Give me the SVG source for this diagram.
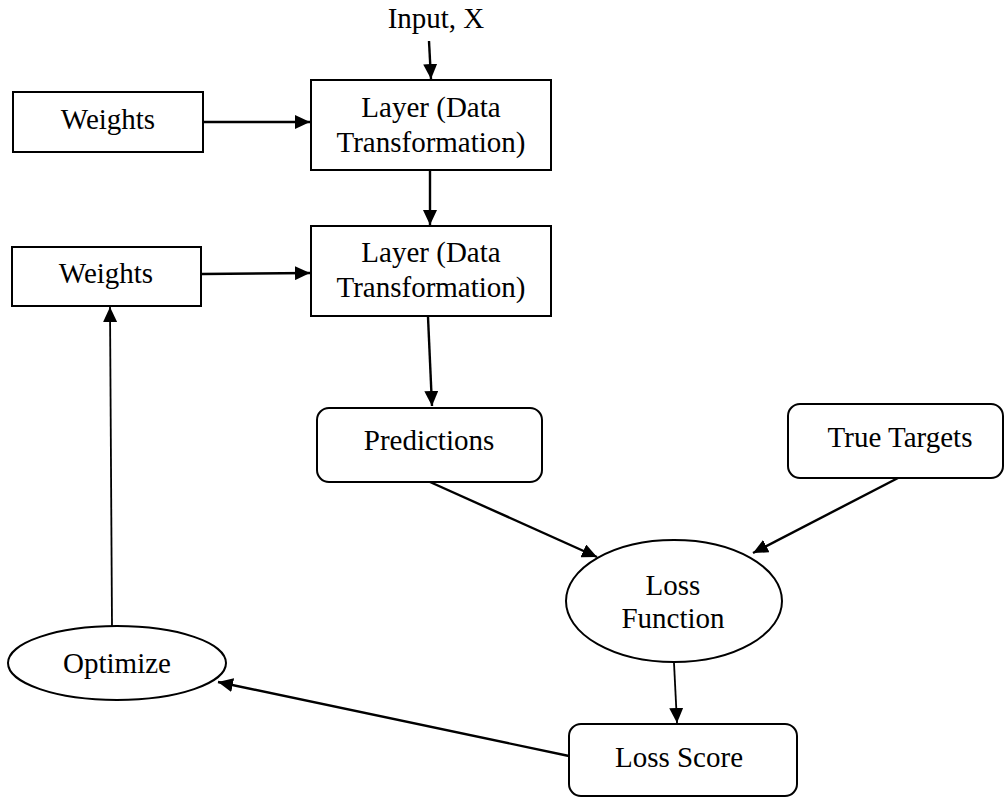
<svg xmlns="http://www.w3.org/2000/svg" width="1005" height="799" viewBox="0 0 1005 799">
  <style>
    .box { fill: #ffffff; stroke: #000000; stroke-width: 2; }
    .lbl { font-family: "Liberation Serif", "Times New Roman", serif; font-size: 29px; fill: #000000; text-anchor: middle; }
    .edge { stroke: #000000; stroke-width: 2.4; fill: none; marker-end: url(#arrow); }
    .thin { stroke-width: 1.8; }
  </style>
  <defs>
    <marker id="arrow" markerUnits="userSpaceOnUse" markerWidth="16" markerHeight="14" refX="15" refY="7" orient="auto">
      <path d="M0,0 L15,7 L0,14 Z" fill="#000000"/>
    </marker>
  </defs>
  <rect width="1005" height="799" fill="#ffffff"/>

  <!-- connectors -->
  <g id="connectors">
    <line class="edge" x1="429" y1="41" x2="431" y2="79"/>
    <line class="edge" x1="204" y1="122" x2="310" y2="122"/>
    <line class="edge" x1="430" y1="171" x2="430" y2="225"/>
    <line class="edge" x1="202" y1="274" x2="310" y2="273"/>
    <line class="edge" x1="428" y1="317" x2="432" y2="406"/>
    <line class="edge" x1="430" y1="482" x2="597" y2="557"/>
    <line class="edge" x1="898" y1="478" x2="753" y2="553"/>
    <line class="edge thin" x1="674" y1="663" x2="677" y2="723"/>
    <line class="edge" x1="569" y1="756" x2="218" y2="682"/>
    <line class="edge thin" x1="112" y1="626" x2="110" y2="307"/>
  </g>

  <!-- input label -->
  <g id="input">
    <text class="lbl" x="436" y="28">Input, X</text>
  </g>

  <g id="weights1">
    <rect class="box" x="13" y="92" width="190" height="60"/>
    <text class="lbl" x="108" y="129">Weights</text>
  </g>

  <g id="layer1">
    <rect class="box" x="311" y="80" width="240" height="90"/>
    <text class="lbl" x="431" y="117">Layer (Data</text>
    <text class="lbl" x="431" y="152">Transformation)</text>
  </g>

  <g id="weights2">
    <rect class="box" x="12" y="247" width="189" height="59"/>
    <text class="lbl" x="106" y="283">Weights</text>
  </g>

  <g id="layer2">
    <rect class="box" x="311" y="226" width="240" height="90"/>
    <text class="lbl" x="431" y="262">Layer (Data</text>
    <text class="lbl" x="431" y="297">Transformation)</text>
  </g>

  <g id="predictions">
    <rect class="box" x="317" y="408" width="225" height="74" rx="12" ry="12"/>
    <text class="lbl" x="429" y="450">Predictions</text>
  </g>

  <g id="true-targets">
    <rect class="box" x="788" y="404" width="215" height="74" rx="12" ry="12"/>
    <text class="lbl" x="900" y="447">True Targets</text>
  </g>

  <g id="loss-function">
    <ellipse class="box" cx="674" cy="601" rx="108" ry="61"/>
    <text class="lbl" x="673" y="595">Loss</text>
    <text class="lbl" x="673" y="628">Function</text>
  </g>

  <g id="loss-score">
    <rect class="box" x="569" y="724" width="228" height="72" rx="12" ry="12"/>
    <text class="lbl" x="679" y="767">Loss Score</text>
  </g>

  <g id="optimize">
    <ellipse class="box" cx="117" cy="663" rx="109" ry="37"/>
    <text class="lbl" x="117" y="673">Optimize</text>
  </g>
</svg>
